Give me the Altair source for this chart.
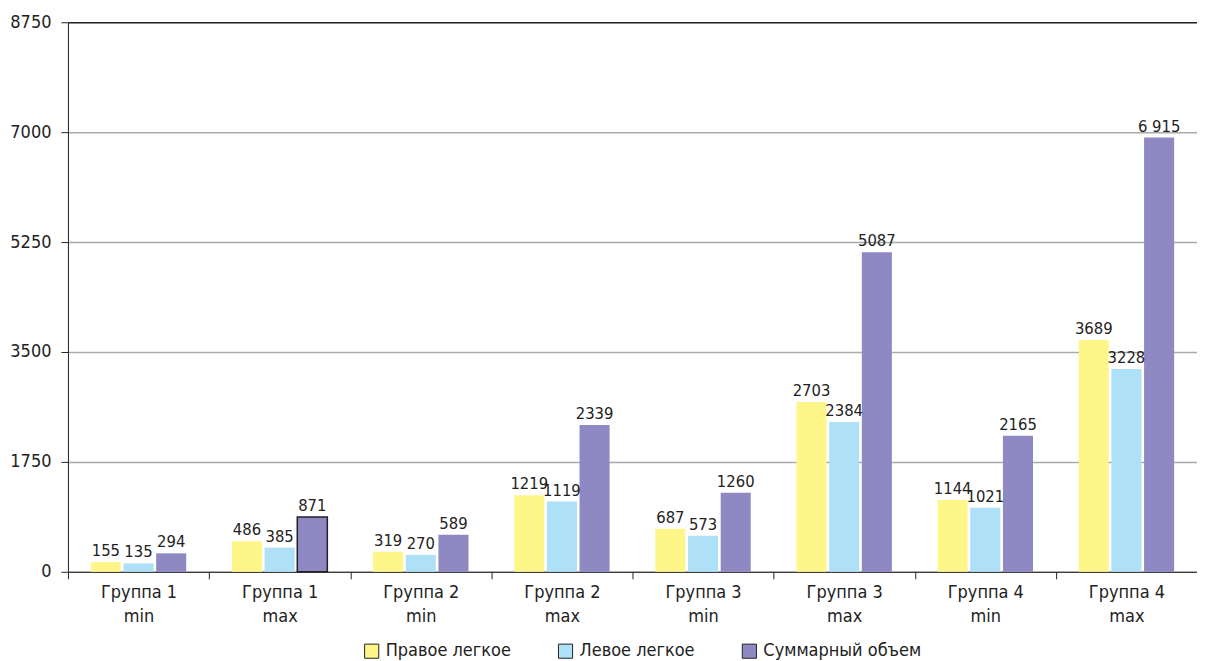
import altair as alt
import pandas as pd

groups = ["Группа 1|min", "Группа 1|max", "Группа 2|min", "Группа 2|max",
          "Группа 3|min", "Группа 3|max", "Группа 4|min", "Группа 4|max"]
series = ["Правое легкое", "Левое легкое", "Суммарный объем"]
right_lung = [155, 486, 319, 1219, 687, 2703, 1144, 3689]
left_lung = [135, 385, 270, 1119, 573, 2384, 1021, 3228]
total = [294, 871, 589, 2339, 1260, 5087, 2165, 6915]
colors = ["#FFF68A", "#AEE0F8", "#8E89C2"]
y_ticks = [0, 1750, 3500, 5250, 7000, 8750]

rows = []
for i, g in enumerate(groups):
    for s, vals in zip(series, [right_lung, left_lung, total]):
        v = vals[i]
        lab = "6 915" if v == 6915 else str(v)
        rows.append({"group": g, "series": s, "value": v, "label": lab})
df = pd.DataFrame(rows)

FONT = "'DejaVu Sans Condensed', Roboto, sans-serif"
FS = 18

x_enc = alt.X("group:N", sort=groups, title=None,
              scale=alt.Scale(paddingInner=0, paddingOuter=0),
              axis=alt.Axis(labelExpr="split(datum.label, '|')", tickBand="extent",
                            labelAngle=0, labelFontSize=FS, labelColor="#222",
                            labelFont=FONT, labelLineHeight=24, labelPadding=5,
                            domainColor="#222", tickColor="#222", tickSize=7,
                            labelBaseline="top"))
xo_enc = alt.XOffset("series:N", sort=series,
                     scale=alt.Scale(paddingInner=0.08, paddingOuter=0.7))
y_enc = alt.Y("value:Q", title=None,
              scale=alt.Scale(domain=[0, 8750], nice=False),
              axis=alt.Axis(values=y_ticks, format="d", labelFontSize=FS,
                            labelColor="#222", labelFont=FONT, domainColor="#222",
                            tickColor="#222", tickSize=7, labelPadding=10,
                            gridColor=alt.condition("datum.value == 8750",
                                                    alt.value("#222"), alt.value("#aaaaaa")),
                            gridWidth=1.5))

bars = alt.Chart(df).mark_bar(strokeWidth=1.5).encode(
    x=x_enc, xOffset=xo_enc, y=y_enc,
    color=alt.Color("series:N", sort=series, title=None,
                    scale=alt.Scale(domain=series, range=colors),
                    legend=alt.Legend(orient="none", direction="horizontal",
                                      legendX=295, legendY=620,
                                      symbolType="square", symbolSize=200,
                                      symbolStrokeColor="#222", symbolStrokeWidth=1,
                                      symbolOpacity=1,
                                      labelFontSize=FS, labelFont=FONT,
                                      labelColor="#222", columnPadding=44,
                                      labelOffset=5)),
    stroke=alt.condition("datum.group == 'Группа 1|max' && datum.series == 'Суммарный объем'",
                         alt.value("#222"), alt.value("transparent")),
)

labels = alt.Chart(df).mark_text(baseline="bottom", dy=-3, fontSize=16.5,
                                 font=FONT, color="#222").encode(
    x=alt.X("group:N", sort=groups), xOffset=alt.XOffset("series:N", sort=series),
    y="value:Q", text="label:N")

chart = alt.layer(bars, labels).properties(
    width=1130, height=550,
    autosize=alt.AutoSizeParams(type="none"),
    padding={"left": 60, "top": 14, "right": 0, "bottom": 88},
).configure_view(stroke=None).configure(font=FONT)

chart.save("out.html", embed_options={"renderer": "svg", "actions": False})
